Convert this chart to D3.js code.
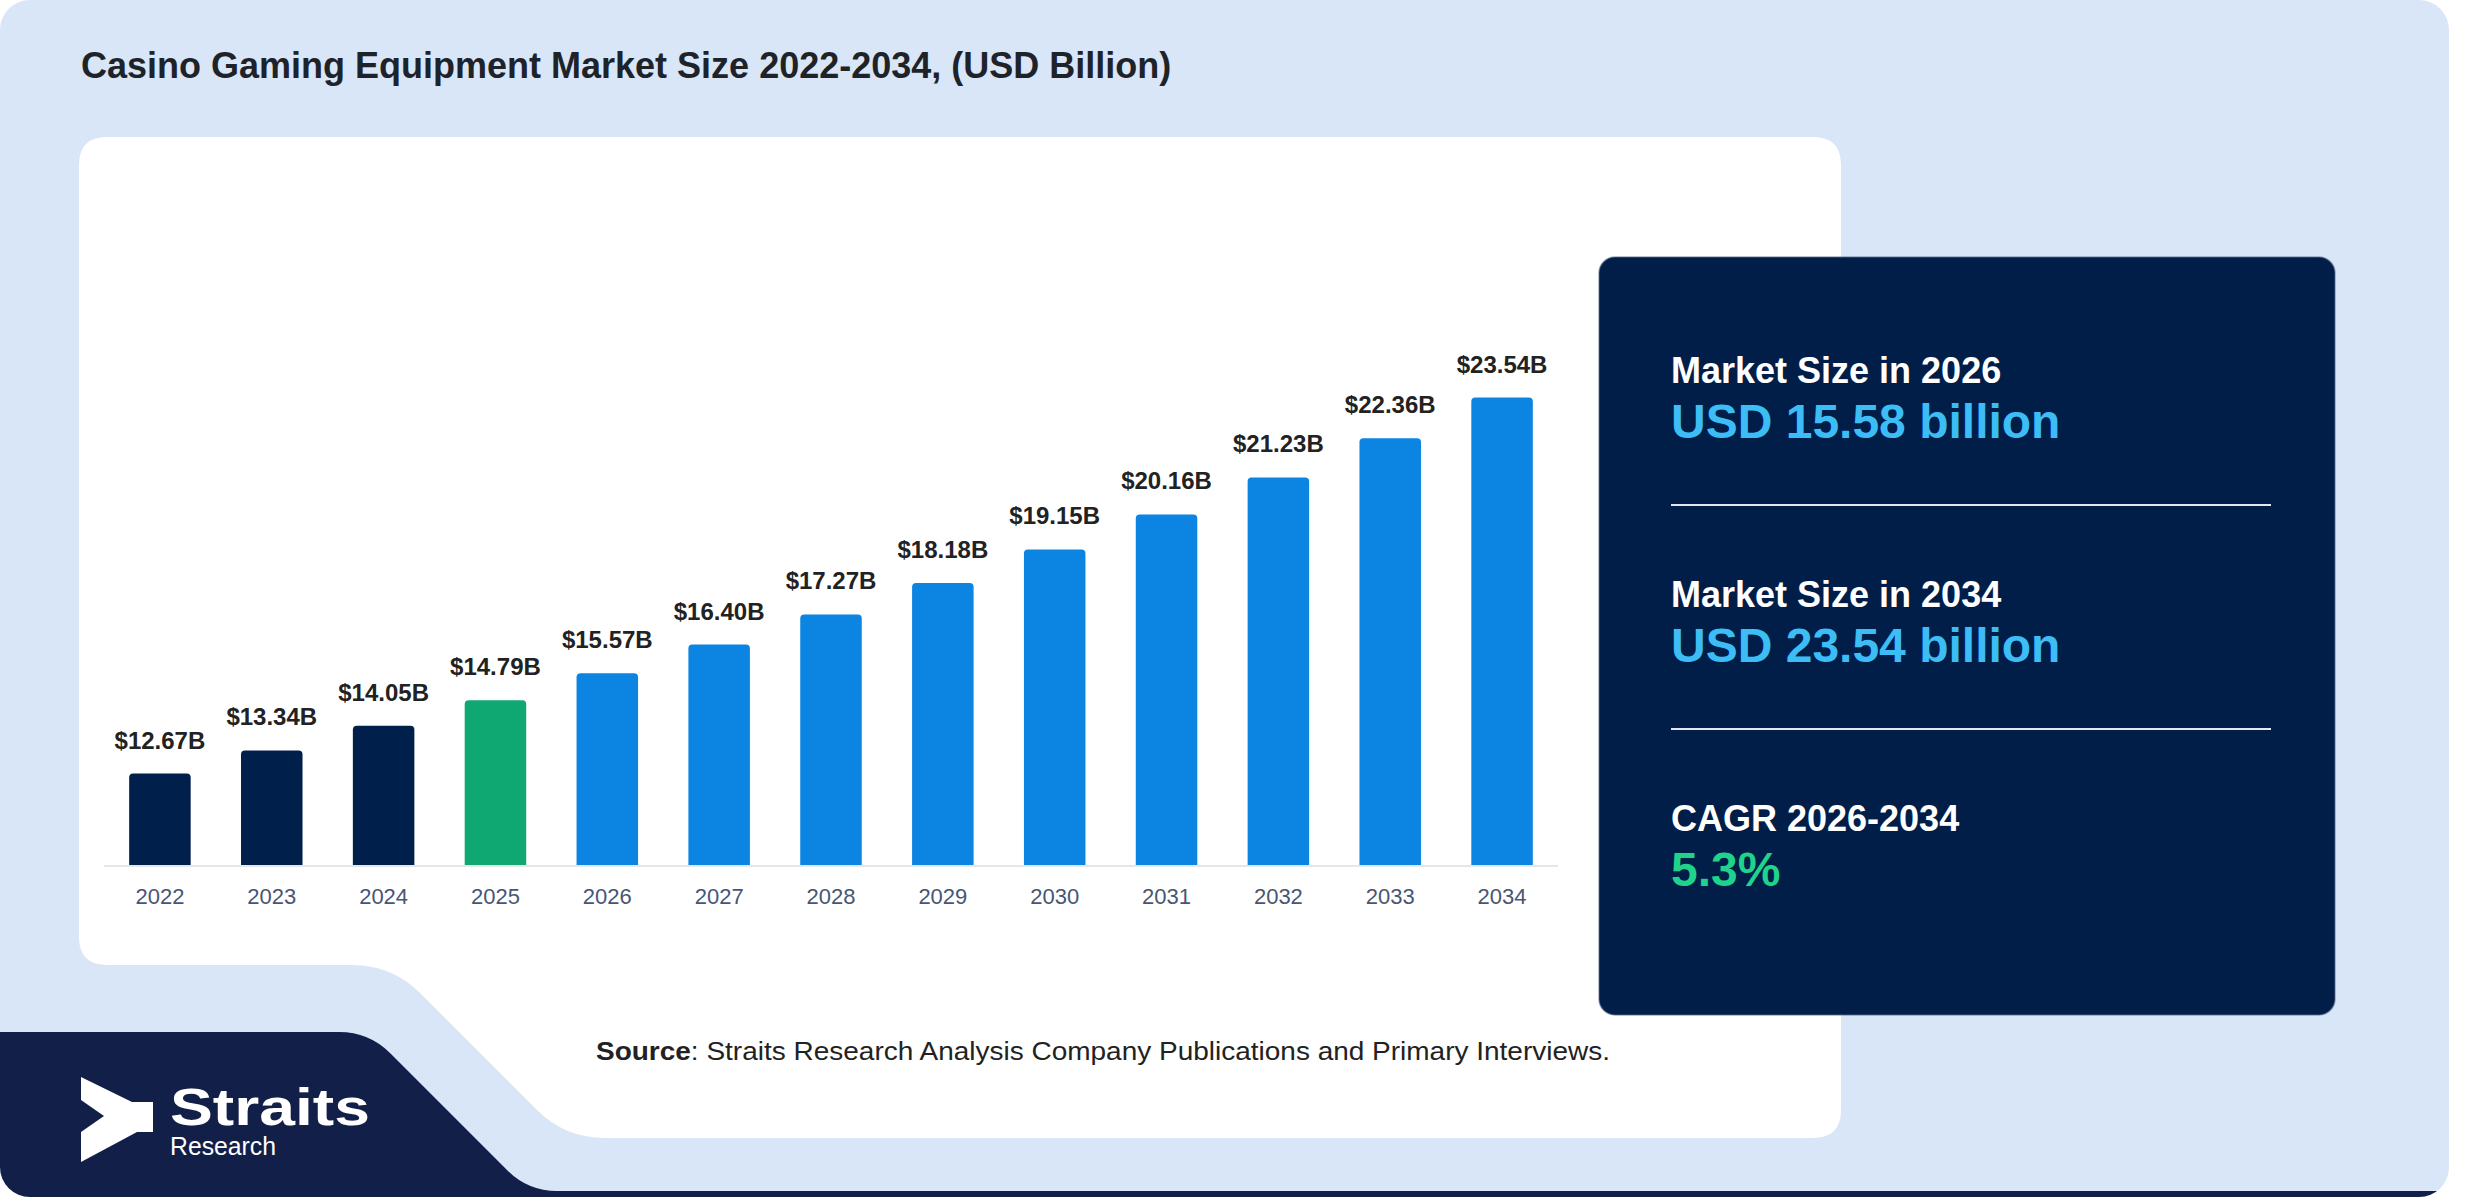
<!DOCTYPE html>
<html>
<head>
<meta charset="utf-8">
<script src="https://cdn.jsdelivr.net/npm/d3@7/dist/d3.min.js"></script>
<style>
  html, body { margin: 0; padding: 0; background: #ffffff; }
  svg { display: block; }
  text { font-family: "Liberation Sans", Arial, Helvetica, sans-serif; }
</style>
</head>
<body>
<script>
// ---------------- DATA ----------------
const years = ["2022","2023","2024","2025","2026","2027","2028","2029","2030","2031","2032","2033","2034"];
const values = [12.67, 13.34, 14.05, 14.79, 15.57, 16.40, 17.27, 18.18, 19.15, 20.16, 21.23, 22.36, 23.54];
const periods = ["hist","hist","hist","base","fc","fc","fc","fc","fc","fc","fc","fc","fc"];
const titleText = "Casino Gaming Equipment Market Size 2022-2034, (USD Billion)";
const statLabels = ["Market Size in 2026", "Market Size in 2034", "CAGR 2026-2034"];
const statValues = ["USD 15.58 billion", "USD 23.54 billion", "5.3%"];
const statKinds = ["usd", "usd", "pct"];
const sourceBold = "Source";
const sourceRest = ": Straits Research Analysis Company Publications and Primary Interviews.";

// ---------------- STYLE ----------------
const W = 2480, H = 1200;
const periodColor = { hist: "#011f4b", base: "#0fa872", fc: "#0b84e2" };
const statColor = { usd: "#3cbdf5", pct: "#1fd38b" };

const svg = d3.select("body").append("svg").attr("width", W).attr("height", H);
const defs = svg.append("defs");
defs.append("clipPath").attr("id", "outerClip")
  .append("rect").attr("x", 0).attr("y", 0).attr("width", 2449).attr("height", 1197).attr("rx", 30);

const bg = svg.append("g").attr("clip-path", "url(#outerClip)");
bg.append("rect").attr("x", 0).attr("y", 0).attr("width", 2449).attr("height", 1197).attr("fill", "#d9e6f8");
// navy logo region + bottom strip
bg.append("path")
  .attr("d", "M -10,1032 H 339 Q 369,1032 390,1053 L 506,1169 Q 527,1191 557,1191 H 2460 V 1210 H -10 Z")
  .attr("fill", "#121f48");

// white chart card with notch
svg.append("path")
  .attr("d", "M 107,137 H 1813 Q 1841,137 1841,165 V 1110 Q 1841,1138 1813,1138 H 605 Q 565,1138 537,1110 L 420,993 Q 392,965 352,965 H 107 Q 79,965 79,937 V 165 Q 79,137 107,137 Z")
  .attr("fill", "#ffffff");

// title
svg.append("text").attr("x", 81).attr("y", 78)
  .attr("font-size", 36).attr("font-weight", 700).attr("fill", "#1e2329")
  .text(titleText);

// ---------------- CHART ----------------
const x = d3.scaleBand().domain(years).range([104, 1558]).paddingInner(0.45).paddingOuter(0.225);
const y = d3.scaleLinear().domain([10, 25]).range([866, 347]);

const chart = svg.append("g");
const r = 4;
chart.selectAll("path.bar").data(years).join("path").attr("class", "bar")
  .attr("fill", (d, i) => periodColor[periods[i]])
  .attr("d", (d, i) => {
    const x0 = x(d), w = x.bandwidth(), y0 = y(values[i]), yb = y(10);
    return `M${x0},${yb} V${y0 + r} Q${x0},${y0} ${x0 + r},${y0} H${x0 + w - r} Q${x0 + w},${y0} ${x0 + w},${y0 + r} V${yb} Z`;
  });

chart.selectAll("text.val").data(years).join("text").attr("class", "val")
  .attr("x", d => x(d) + x.bandwidth() / 2)
  .attr("y", (d, i) => y(values[i]) - 25)
  .attr("text-anchor", "middle").attr("font-size", 24).attr("font-weight", 700).attr("fill", "#222222")
  .text((d, i) => "$" + values[i].toFixed(2) + "B");

const axis = chart.append("g").attr("transform", `translate(0,${y(10)})`)
  .call(d3.axisBottom(x).tickSize(0).tickPadding(22));
axis.select(".domain").attr("stroke", "#e3e6eb").attr("stroke-width", 2)
  .attr("d", "M104,0H1558");
axis.selectAll(".tick text")
  .attr("font-family", "Liberation Sans, Arial, sans-serif")
  .attr("font-size", 22).attr("fill", "#475674").attr("dy", "0.71em");

// source
const src = svg.append("text").attr("x", 596).attr("y", 1060).attr("font-size", 26).attr("fill", "#222222")
  .attr("textLength", 1014).attr("lengthAdjust", "spacingAndGlyphs");
src.append("tspan").attr("font-weight", 700).text(sourceBold);
src.append("tspan").text(sourceRest);

// ---------------- RIGHT PANEL ----------------
svg.append("rect").attr("x", 1599).attr("y", 257).attr("width", 736).attr("height", 758).attr("rx", 16)
  .attr("fill", "#011e49").attr("stroke", "rgba(90,105,135,0.55)").attr("stroke-width", 1.5);

const panel = svg.append("g");
statLabels.forEach((lab, i) => {
  const base = 383 + i * 224;
  panel.append("text").attr("x", 1671).attr("y", base)
    .attr("font-size", 36).attr("font-weight", 700).attr("fill", "#ffffff").text(lab);
  panel.append("text").attr("x", 1671).attr("y", base + 55)
    .attr("font-size", 48).attr("font-weight", 700).attr("fill", statColor[statKinds[i]]).text(statValues[i]);
  if (i < statLabels.length - 1) {
    panel.append("line").attr("x1", 1671).attr("x2", 2271)
      .attr("y1", base + 122).attr("y2", base + 122)
      .attr("stroke", "#e4e8ef").attr("stroke-width", 2);
  }
});

// ---------------- LOGO ----------------
const logo = svg.append("g");
logo.append("polygon")
  .attr("points", "81,1077 132,1102 153,1102 153,1132 137,1132 81,1162 81,1132 104,1116 81,1100")
  .attr("fill", "#ffffff");
logo.append("text").attr("x", 170).attr("y", 1125)
  .attr("font-family", "'Open Sans', 'Noto Sans', sans-serif")
  .attr("font-size", 52).attr("font-weight", 700).attr("fill", "#ffffff")
  .attr("textLength", 200).attr("lengthAdjust", "spacingAndGlyphs").text("Straits");
logo.append("text").attr("x", 170).attr("y", 1155)
  .attr("font-family", "'Open Sans', 'Noto Sans', sans-serif")
  .attr("font-size", 25).attr("fill", "#ffffff")
  .attr("textLength", 106).attr("lengthAdjust", "spacingAndGlyphs").text("Research");
</script>
</body>
</html>
